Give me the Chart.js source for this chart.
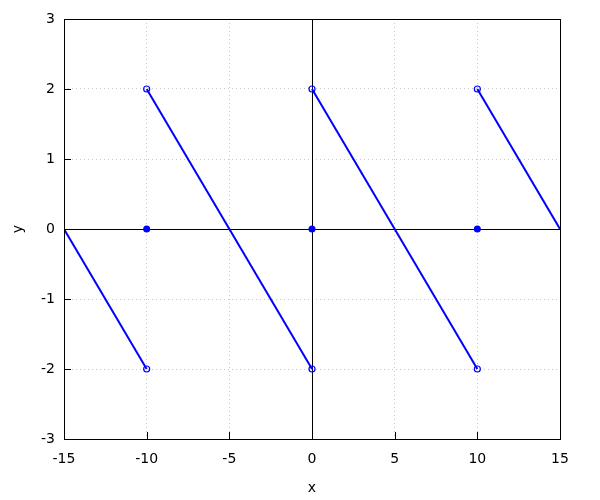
<!DOCTYPE html>
<html>
<head>
<meta charset="utf-8">
<script src="https://cdn.jsdelivr.net/npm/chart.js@4/dist/chart.umd.min.js"></script>
<style>
html,body{margin:0;padding:0;background:#fff;}
#wrap{width:600px;height:500px;}
</style>
</head>
<body>
<div id="wrap"><canvas id="c" width="600" height="500"></canvas></div>
<script>
// Line segments of the sawtooth
const segStartX = [-15, -10, 0, 10];
const segStartY = [0, 2, 2, 2];
const segEndX = [-10, 0, 10, 15];
const segEndY = [-2, -2, -2, 0];
// Open circles (jump ends)
const openX = [-10, -10, 0, 0, 10, 10];
const openY = [2, -2, 2, -2, 2, -2];
// Filled dots (values at discontinuities)
const dotX = [-10, 0, 10];
const dotY = [0, 0, 0];
// Axis ranges / ticks
const xMin = -15, xMax = 15, xStep = 5;
const yMin = -3, yMax = 3, yStep = 1;
const xTitle = 'x', yTitle = 'y';

const BLUE = '#0000ff';
const FONT = "'DejaVu Sans', sans-serif";

const datasets = [];
for (let i = 0; i < segStartX.length; i++) {
  datasets.push({
    data: [{x: segStartX[i], y: segStartY[i]}, {x: segEndX[i], y: segEndY[i]}],
    showLine: true, borderColor: BLUE, borderWidth: 2, pointRadius: 0, fill: false
  });
}
datasets.push({
  data: openX.map((x, i) => ({x, y: openY[i]})),
  showLine: false, pointRadius: 3, pointBorderWidth: 1.2,
  pointBorderColor: BLUE, pointBackgroundColor: 'rgba(0,0,0,0)'
});
datasets.push({
  data: dotX.map((x, i) => ({x, y: dotY[i]})),
  showLine: false, pointRadius: 3.5, pointBorderWidth: 0,
  pointBorderColor: BLUE, pointBackgroundColor: BLUE
});

const framePlugin = {
  id: 'frame',
  beforeDatasetsDraw(chart) {
    const {ctx, chartArea: a, scales: {x, y}} = chart;
    ctx.save();
    ctx.strokeStyle = '#000';
    ctx.lineWidth = 1;
    const x0 = Math.round(x.getPixelForValue(0)) + 0.5;
    const y0 = Math.round(y.getPixelForValue(0)) + 0.5;
    ctx.beginPath();
    ctx.moveTo(a.left, y0); ctx.lineTo(a.right, y0);
    ctx.moveTo(x0, a.top); ctx.lineTo(x0, a.bottom);
    ctx.stroke();
    ctx.restore();
  },
  afterDatasetsDraw(chart) {
    const {ctx, chartArea: a, scales: {x, y}} = chart;
    ctx.save();
    ctx.strokeStyle = '#000';
    ctx.lineWidth = 1;
    ctx.beginPath();
    y.ticks.forEach(t => {
      const py = Math.round(y.getPixelForValue(t.value)) + 0.5;
      ctx.moveTo(a.left, py); ctx.lineTo(a.left + 7, py);
    });
    x.ticks.forEach(t => {
      const px = Math.round(x.getPixelForValue(t.value)) + 0.5;
      ctx.moveTo(px, a.bottom); ctx.lineTo(px, a.bottom - 7);
    });
    ctx.stroke();
    ctx.strokeRect(Math.round(a.left) + 0.5, Math.round(a.top) + 0.5,
      Math.round(a.right - a.left), Math.round(a.bottom - a.top));
    ctx.restore();
  }
};

new Chart(document.getElementById('c'), {
  type: 'scatter',
  data: {datasets},
  plugins: [framePlugin],
  options: {
    responsive: false,
    animation: false,
    events: [],
    layout: {padding: {left: 0, top: 19, right: 40, bottom: 0}},
    plugins: {legend: {display: false}, tooltip: {enabled: false}},
    scales: {
      x: {
        type: 'linear', min: xMin, max: xMax,
        ticks: {stepSize: xStep, color: '#000', font: {family: FONT, size: 14}, padding: 12, maxRotation: 0},
        grid: {color: '#c8c8c8', drawTicks: false},
        border: {display: false, dash: [1, 3]},
        title: {display: true, text: xTitle, color: '#000', font: {family: FONT, size: 14}, padding: {top: 8, bottom: 3}},
        afterFit(s) { s.height = 61; }
      },
      y: {
        type: 'linear', min: yMin, max: yMax,
        ticks: {stepSize: yStep, color: '#000', font: {family: FONT, size: 14}, padding: 9},
        grid: {color: '#c8c8c8', drawTicks: false},
        border: {display: false, dash: [1, 3]},
        title: {display: true, text: yTitle, color: '#000', font: {family: FONT, size: 14}, padding: {top: 10, bottom: 0}},
        afterFit(s) { s.width = 64; }
      }
    }
  }
});
</script>
</body>
</html>
